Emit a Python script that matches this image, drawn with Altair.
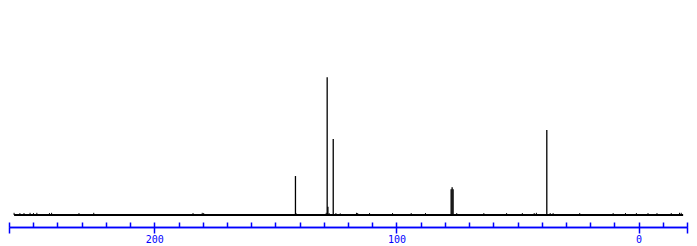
import altair as alt
import pandas as pd

# Main peaks (ppm, relative intensity; tallest = 100)
peak_ppm = [141.7, 128.6, 128.3, 126.1, 77.4, 77.0, 76.6, 37.9]
peak_int = [28.3, 100.0, 6.0, 55.2, 18.7, 20.1, 18.7, 61.7]

# Small baseline noise spikes (ppm, relative intensity)
noise_ppm = [257.9, 255.5, 253.8, 251.3, 249.9, 248.5, 243.3, 242.4, 231.1, 225.0,
             184.0, 180.2, 179.6, 141.4, 129.0, 127.8, 125.0, 123.2, 116.5, 116.0,
             111.1, 101.6, 93.9, 88.0, 75.1, 63.9, 54.5, 48.0, 43.1, 42.2, 36.5,
             35.3, 24.3, 10.5, 5.4, 0.9, -3.9, -7.6, -13.5, -16.9, -17.6]
noise_int = [1.6, 1.4, 1.4, 1.6, 1.4, 1.6, 1.4, 1.6, 1.4, 1.6,
             1.4, 1.6, 1.4, 1.2, 1.6, 1.4, 1.4, 1.2, 1.6, 1.4,
             1.4, 1.4, 1.4, 1.4, 1.4, 1.4, 1.4, 1.4, 1.4, 1.6, 1.4,
             1.4, 1.4, 1.4, 1.4, 1.4, 1.4, 1.4, 1.4, 1.6, 1.6]

# Spectrum extent
spec_start = [257.9]
spec_end = [-18.4]

# Axis definition
x_min, x_max = -20, 260
minor_ticks = list(range(-20, 261, 10))
major_ticks = [260, 200, 100, 0, -20]

peaks = pd.DataFrame({"ppm": peak_ppm, "inten": peak_int, "zero": [0.0] * len(peak_ppm)})
noise = pd.DataFrame({"ppm": noise_ppm, "inten": noise_int, "zero": [0.0] * len(noise_ppm)})
base = pd.DataFrame({"x1": spec_start, "x2": spec_end, "zero": [0.0]})

xscale = alt.Scale(domain=[x_min, x_max], reverse=True, nice=False, zero=False)
yscale = alt.Scale(domain=[-8.7, 156.1], nice=False, zero=False)
BLUE = "#0000ff"

bottom_axis = alt.Axis(
    orient="bottom", values=major_ticks, tickSize=6, tickColor=BLUE, domainColor=BLUE,
    tickWidth=1.5, domainWidth=1.5,
    labelExpr="(datum.value % 100 == 0) ? datum.label : ''", format="d",
    labelColor=BLUE, labelFont="DejaVu Sans Mono", labelFontSize=10, labelPadding=1,
    grid=False, title=None, labelFlush=False, labelOverlap=False,
)
top_axis = alt.Axis(
    orient="top", offset=-227, values=minor_ticks, tickSize=5, tickColor=BLUE,
    domainColor=BLUE, tickWidth=1.5, domainWidth=1.5, labels=False, grid=False, title=None,
)

baseline = alt.Chart(base).mark_rule(color="black", strokeWidth=2.2).encode(
    x=alt.X("x1:Q", scale=xscale, axis=bottom_axis),
    x2="x2:Q",
    y=alt.Y("zero:Q", scale=yscale, axis=None),
)

peak_layer = alt.Chart(peaks).mark_rule(color="black", strokeWidth=1.3).encode(
    x=alt.X("ppm:Q", scale=xscale, axis=top_axis),
    y=alt.Y("zero:Q", scale=yscale, axis=None),
    y2="inten:Q",
)

noise_layer = alt.Chart(noise).mark_rule(color="black", strokeWidth=1).encode(
    x=alt.X("ppm:Q", scale=xscale, axis=None),
    y=alt.Y("zero:Q", scale=yscale, axis=None),
    y2="inten:Q",
)

chart = alt.layer(baseline, noise_layer, peak_layer).resolve_axis(x="independent").properties(
    width=678, height=227,
    autosize=alt.AutoSizeParams(type="none"),
    padding={"left": 9, "top": 0, "right": 10, "bottom": 19},
    background="white",
).configure_view(stroke=None)

chart.save("out.html", embed_options={"renderer": "svg", "actions": False})
